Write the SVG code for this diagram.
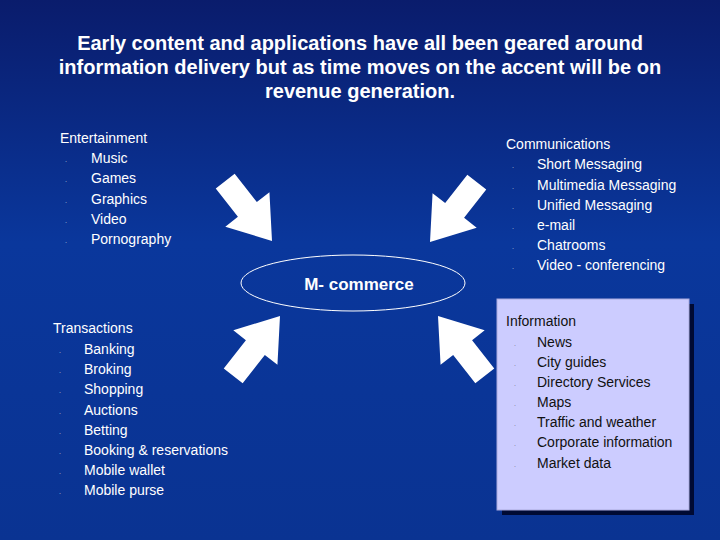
<svg xmlns="http://www.w3.org/2000/svg" width="720" height="540" viewBox="0 0 720 540">
<defs>
<linearGradient id="bg" x1="0" y1="0" x2="0" y2="1">
<stop offset="0" stop-color="#0a1c6c"/><stop offset="0.45" stop-color="#0a379c"/><stop offset="1" stop-color="#0a3392"/>
</linearGradient>
<path id="arr" d="M0,-12 L36,-12 L36,-28 L76,0 L36,28 L36,12 L0,12 Z" fill="#fff"/>
</defs>
<style>
text{font-family:"Liberation Sans",Arial,sans-serif;}
.t{fill:#fff;font-size:20px;font-weight:bold;text-anchor:middle}
.w{fill:#fff;font-size:14px}
.d{fill:#111;font-size:14px}
.bw{fill:#fff;font-size:6px}
.bd{fill:#333;font-size:6px}
</style>
<rect width="720" height="540" fill="url(#bg)"/>
<g id="title">
<text class="t" x="360" y="50">Early content and applications have all been geared around</text>
<text class="t" x="360" y="74">information delivery but as time moves on the accent will be on</text>
<text class="t" x="360" y="98">revenue generation.</text>
</g>
<g id="connectors">
<use href="#arr" transform="translate(272,241) rotate(52) translate(-76,0)"/>
<use href="#arr" transform="translate(430,242) rotate(128) translate(-76,0)"/>
<use href="#arr" transform="translate(280,316) rotate(-52) translate(-76,0)"/>
<use href="#arr" transform="translate(438,316) rotate(-128) translate(-76,0)"/>
</g>
<g id="mcommerce">
<ellipse cx="353" cy="283" rx="112" ry="28" fill="none" stroke="#fff" stroke-width="1"/>
<text x="359" y="290" fill="#fff" font-size="17" font-weight="bold" text-anchor="middle">M- commerce</text>
</g>
<g id="entertainment">
<text class="w" x="60" y="143">Entertainment</text>
<text class="w" x="91" y="163">Music</text><text class="w" x="91" y="183">Games</text><text class="w" x="91" y="204">Graphics</text><text class="w" x="91" y="224">Video</text><text class="w" x="91" y="244">Pornography</text>
<text class="bw" x="65" y="163">·</text><text class="bw" x="65" y="183">·</text><text class="bw" x="65" y="204">·</text><text class="bw" x="65" y="224">·</text><text class="bw" x="65" y="244">·</text>
</g>
<g id="communications">
<text class="w" x="506" y="149">Communications</text>
<text class="w" x="537" y="169">Short Messaging</text><text class="w" x="537" y="190">Multimedia Messaging</text><text class="w" x="537" y="210">Unified Messaging</text><text class="w" x="537" y="230">e-mail</text><text class="w" x="537" y="250">Chatrooms</text><text class="w" x="537" y="270">Video - conferencing</text>
<text class="bw" x="512" y="169">·</text><text class="bw" x="512" y="190">·</text><text class="bw" x="512" y="210">·</text><text class="bw" x="512" y="230">·</text><text class="bw" x="512" y="250">·</text><text class="bw" x="512" y="270">·</text>
</g>
<g id="transactions">
<text class="w" x="53" y="333">Transactions</text>
<text class="w" x="84" y="354">Banking</text><text class="w" x="84" y="374">Broking</text><text class="w" x="84" y="394">Shopping</text><text class="w" x="84" y="415">Auctions</text><text class="w" x="84" y="435">Betting</text><text class="w" x="84" y="455">Booking &amp; reservations</text><text class="w" x="84" y="475">Mobile wallet</text><text class="w" x="84" y="495">Mobile purse</text>
<text class="bw" x="59" y="354">·</text><text class="bw" x="59" y="374">·</text><text class="bw" x="59" y="394">·</text><text class="bw" x="59" y="415">·</text><text class="bw" x="59" y="435">·</text><text class="bw" x="59" y="455">·</text><text class="bw" x="59" y="475">·</text><text class="bw" x="59" y="495">·</text>
</g>
<g id="information">
<rect x="502" y="304" width="192" height="211" fill="#000a33"/>
<rect x="497" y="299" width="192" height="211" fill="#ccccff" stroke="#aaaadd" stroke-width="1"/>
<text class="d" x="506" y="326">Information</text>
<text class="d" x="537" y="347">News</text><text class="d" x="537" y="367">City guides</text><text class="d" x="537" y="387">Directory Services</text><text class="d" x="537" y="407">Maps</text><text class="d" x="537" y="427">Traffic and weather</text><text class="d" x="537" y="447">Corporate information</text><text class="d" x="537" y="468">Market data</text>
<text class="bd" x="514" y="347">·</text><text class="bd" x="514" y="367">·</text><text class="bd" x="514" y="387">·</text><text class="bd" x="514" y="407">·</text><text class="bd" x="514" y="427">·</text><text class="bd" x="514" y="447">·</text><text class="bd" x="514" y="468">·</text>
</g>
</svg>
